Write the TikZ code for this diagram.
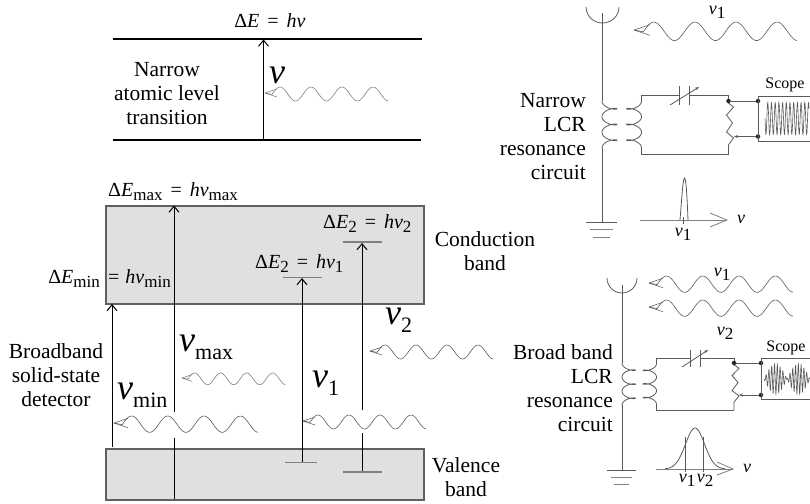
\documentclass[tikz,border=0pt]{standalone}
\usepackage{amsmath}
\usepackage{fontspec}
\setmainfont{Liberation Serif}
\usetikzlibrary{arrows.meta}
\definecolor{bandgray}{HTML}{E0E0E0}
\definecolor{edgegray}{HTML}{606060}
\definecolor{wiregray}{HTML}{5A5A5A}
\newcommand{\eqgap}{\hspace{0.4em}=\hspace{0.4em}}
\newcommand{\eqsub}[1]{\raisebox{-4pt}{\fontsize{17}{20}\selectfont #1}}
\newcommand{\bigsub}[1]{\raisebox{-8pt}{\fontsize{22}{24}\selectfont #1}}
\newcommand{\bignu}{\textit{ν}}

\begin{document}
\begin{tikzpicture}[
			x=1pt, y=-1pt,
			lab/.style={font=\fontsize{21.5}{24}\selectfont, align=center, inner sep=0pt},
			eqn/.style={font=\fontsize{20}{24}\selectfont, inner sep=0pt},
			nulab/.style={font=\fontsize{36}{38}\selectfont, inner sep=0pt},
			small/.style={font=\fontsize{18}{20}\selectfont, inner sep=0pt},
			scopelab/.style={font=\fontsize{16}{18}\selectfont, inner sep=0pt},
			band/.style={draw=edgegray, fill=bandgray, line width=2pt, inner sep=0pt},
			level/.style={draw=black, line width=2pt},
			state/.style={draw=gray, line width=1pt},
			trans/.style={draw=black, line width=1pt},
			transup/.style={trans, -{Straight Barb[length=6pt,width=10pt]}},
			wire/.style={draw=wiregray, line width=0.8pt},
			dot/.style={circle, fill=black!85, minimum size=4.5pt, inner sep=0pt},
			photon/.pic={
				\draw[line width=0.6pt, line join=round] (0,0) -- (12,-4) (0,0) -- (12,4);
				\draw[line width=0.6pt] (0,0) -- (7,1.4)
					plot[domain=7:123, samples=90, smooth] (\x,{1-7*cos(360/31*(\x-15))});
			},
			coilwind/.pic={
				\draw[wire] plot[domain=0:1080, samples=120, smooth] ({15*(1-cos(\x))/2},{\x/1080*47+3.4*sin(\x)});
			},
			resist/.pic={
				\draw[wire] (0,0) -- (0,2) -- (5,6) -- (-2,14) -- (4,22) -- (-2,31) -- (5,37) -- (0,44) -- (0,53);
			}
			]
			\useasboundingbox (0,0) rectangle (810,503);
			
			% Atomic levels
			\coordinate (atomlowA) at (113,139.5);
			\coordinate (atomlowB) at (421,139.5);
			\coordinate (atomupA) at (113,39);
			\coordinate (atomupB) at (422,39);
			\draw[level] (atomupA) -- (atomupB);
			\draw[level] (atomlowA) -- (atomlowB);
			\coordinate (atomfrom) at (263.5,139);
			\coordinate (atomto) at (263.5,39.5);
			\draw[transup] (atomfrom) -- (atomto);
			\node[eqn] (atomeq) at (270,21) {Δ\textit{E}\eqgap\textit{hν}};
			\node[lab] (atomtext) at (167,94) {Narrow\\atomic level\\transition};
			\node[nulab] (atomnu) at (277,75) {\bignu};
			\path (265,93) pic[gray] {photon};
			
			% Bands
			\node[band, minimum width=318pt, minimum height=98pt, anchor=north west] (conduction) at (105,205) {};
			\node[band, minimum width=318pt, minimum height=51pt, anchor=north west] (valence) at (105,448) {};
			
			% Transitions
			\coordinate (minfrom) at (112,447);
			\coordinate (minto) at (112,304);
			\draw[transup] (minfrom) -- (minto);
			\coordinate (maxfrom) at (174,499);
			\coordinate (maxgapA) at (174,438);
			\coordinate (maxgapB) at (174,412);
			\coordinate (maxto) at (174,205.5);
			\draw[trans] (maxfrom) -- (maxgapA);
			\draw[transup] (maxgapB) -- (maxto);
			\coordinate (onefrom) at (302,462);
			\coordinate (oneto) at (302,278);
			\draw[transup] (onefrom) -- (oneto);
			\coordinate (twofrom) at (362,472);
			\coordinate (twogapA) at (362,433);
			\coordinate (twogapB) at (362,410);
			\coordinate (twoto) at (362,243);
			\draw[trans] (twofrom) -- (twogapA);
			\draw[transup] (twogapB) -- (twoto);
			
			% Small levels
			\coordinate (stateA) at (343,242);
			\coordinate (stateB) at (382,242);
			\draw[state, line width=1.2pt] (stateA) -- (stateB);
			\coordinate (stateC) at (283,277);
			\coordinate (stateD) at (322,277);
			\draw[state] (stateC) -- (stateD);
			\coordinate (stateE) at (285,462);
			\coordinate (stateF) at (317,462);
			\draw[state] (stateE) -- (stateF);
			\coordinate (stateG) at (343,472);
			\coordinate (stateH) at (382,472);
			\draw[state, line width=1.2pt] (stateG) -- (stateH);
			
			% Band labels
			\node[eqn, anchor=base west] (maxeq) at (108,196) {Δ\textit{E}\eqsub{max}\eqgap\textit{hν}\eqsub{max}};
			\node[eqn, anchor=base west] (twoeq) at (323,228) {Δ\textit{E}\eqsub{2}\eqgap\textit{hν}\eqsub{2}};
			\node[eqn, anchor=base west] (oneeq) at (255,268) {Δ\textit{E}\eqsub{2}\eqgap\textit{hν}\eqsub{1}};
			\node[eqn, anchor=base east] (mineqA) at (100,283) {Δ\textit{E}\eqsub{min}};
			\node[eqn, anchor=base west] (mineqB) at (108,283) {=\hspace{0.3em}\textit{hν}\eqsub{min}};
			\node[lab] (condtext) at (485,251) {Conduction\\band};
			\node[lab] (valtext) at (466,477) {Valence\\band};
			\node[lab] (detector) at (56,375) {Broadband\\solid-state\\detector};
			\node[nulab, anchor=base west] (numax) at (179,351) {\bignu\bigsub{max}};
			\node[nulab, anchor=base west] (numin) at (117,399) {\bignu\bigsub{min}};
			\node[nulab, anchor=base west] (nuone) at (312,387) {\bignu\bigsub{1}};
			\node[nulab, anchor=base west] (nutwo) at (385,324) {\bignu\bigsub{2}};
			
			% Photons
			\path (370,351) pic[wiregray] {photon};
			\path (182,378) pic[gray, scale=0.84] {photon};
			\path (114,423) pic[wiregray, scale=1.17] {photon};
			\path (303,421) pic[wiregray] {photon};
			
			% Narrow circuit
			\node[lab, align=right, anchor=east] (narrowtext) at (586,137) {Narrow\\LCR\\resonance\\circuit};
			\coordinate (ntop) at (602,13);
			\coordinate (ncoilA) at (602,101);
			\coordinate (ncoilB) at (602,148);
			\coordinate (ngnd) at (602,222);
			\draw[wire] (586,7) arc[start angle=180, end angle=360, x radius=16.5, y radius=-16];
			\draw[wire] (ntop) -- (ncoilA);
			\draw[wire] (ncoilB) -- (ngnd);
			\path (ncoilA) pic {coilwind};
			\path (641.5,101) pic[xscale=-1] {coilwind};
			\draw[wire] (586,222) -- (617,222);
			\draw[wire, gray] (590,229) -- (613,229);
			\draw[wire, gray] (593,237) -- (610,237);
			\coordinate (nloopA) at (641.5,101);
			\coordinate (nloopB) at (641.5,95);
			\coordinate (nplateA) at (679,95);
			\coordinate (nplateB) at (689,95);
			\coordinate (nloopC) at (728.5,95);
			\coordinate (nres) at (728.5,101);
			\coordinate (nloopD) at (728.5,154);
			\coordinate (nloopE) at (641.5,154);
			\coordinate (nloopF) at (641.5,148);
			\draw[wire] (nloopA) -- (nloopB) -- (nplateA);
			\draw[wire] (nplateB) -- (nloopC) -- (nres);
			\draw[wire] (nloopD) -- (nloopE) -- (nloopF);
			\draw[wire] (679,86) -- (679,105);
			\draw[wire] (689,86) -- (689,105);
			\draw[wire, -{Stealth[length=4pt,width=3pt]}] (670,105) -- (699,87);
			\path (nres) pic {resist};
			\node[dot] (nrdot) at (nres) {};
			\node[dot] (nsdotA) at (758,101) {};
			\node[dot] (nsdotB) at (758,136.5) {};
			\draw[wire] (nrdot) -- (nsdotA);
			\draw[wire, -{Stealth[length=4pt,width=3pt]}] (nsdotB) -- (734,136.5);
			\coordinate (nboxA) at (810,96);
			\coordinate (nboxB) at (758,96);
			\coordinate (nboxC) at (758,141);
			\coordinate (nboxD) at (810,141);
			\draw[wire] (nboxA) -- (nboxB) -- (nboxC) -- (nboxD);
			\draw[wire, line width=0.6pt] plot[domain=765:809, samples=220] (\x,{118.5+16*sin(360/3.7*(\x-765))});
			\node[scopelab] (nscope) at (785,85) {Scope};
			\node[small] (nnutop) at (717,12) {\textit{ν}\eqsub{1}};
			\path (634,30) pic[wiregray, scale=1.325] {photon};
			
			% Narrow spectrum
			\coordinate (naxA) at (640,220);
			\coordinate (naxB) at (727,220);
			\draw[wire, gray] (naxA) -- (naxB);
			\draw[wire, gray] (710,213) -- (naxB) -- (710,227);
			\draw[wire] (680,220) .. controls (682,195) and (683,178) .. (684.5,178) .. controls (686,178) and (687,195) .. (688,220);
			\draw[wire] (683.5,217) -- (683.5,224);
			\node[small] (nnuaxis) at (683,234) {\textit{ν}\eqsub{1}};
			\node[small] (nnuend) at (741,219) {\textit{ν}};
			
			% Broad circuit
			\node[lab, align=right, anchor=east] (broadtext) at (613,388) {Broad band\\LCR\\resonance\\circuit};
			\coordinate (btop) at (622,285);
			\coordinate (bcoilA) at (622,363);
			\coordinate (bcoilB) at (622,405);
			\coordinate (bgnd) at (622,470);
			\draw[wire] (607,278) arc[start angle=180, end angle=360, x radius=15, y radius=-15];
			\draw[wire] (btop) -- (bcoilA);
			\draw[wire] (bcoilB) -- (bgnd);
			\path (bcoilA) pic[yscale=0.9, xscale=0.9] {coilwind};
			\path (656.5,363.5) pic[yscale=0.87, xscale=-0.9] {coilwind};
			\draw[wire] (607,470) -- (636,470);
			\draw[wire, gray] (611,477) -- (632,477);
			\draw[wire, gray] (614,484) -- (629,484);
			\coordinate (bloopA) at (656.5,363.5);
			\coordinate (bloopB) at (656.5,358);
			\coordinate (bplateA) at (690,358);
			\coordinate (bplateB) at (700,358);
			\coordinate (bloopC) at (734,358);
			\coordinate (bres) at (734,363);
			\coordinate (bloopD) at (734,410);
			\coordinate (bloopE) at (656.5,410);
			\coordinate (bloopF) at (656.5,404);
			\draw[wire] (bloopA) -- (bloopB) -- (bplateA);
			\draw[wire] (bplateB) -- (bloopC) -- (bres);
			\draw[wire] (bloopD) -- (bloopE) -- (bloopF);
			\draw[wire] (690,350) -- (690,367);
			\draw[wire] (700,350) -- (700,367);
			\draw[wire, -{Stealth[length=4pt,width=3pt]}] (682,367) -- (708,350);
			\path (bres) pic[yscale=0.89] {resist};
			\node[dot] (brdot) at (bres) {};
			\node[dot] (bsdotA) at (761,363) {};
			\node[dot] (bsdotB) at (761,395) {};
			\draw[wire] (brdot) -- (bsdotA);
			\draw[wire, -{Stealth[length=4pt,width=3pt]}] (bsdotB) -- (739,395);
			\coordinate (bboxA) at (810,358);
			\coordinate (bboxB) at (761,358);
			\coordinate (bboxC) at (761,399);
			\coordinate (bboxD) at (810,399);
			\draw[wire] (bboxA) -- (bboxB) -- (bboxC) -- (bboxD);
			\draw[wire, line width=0.6pt] plot[domain=764:810, samples=260] (\x,{379+15*sin(180/23*(\x-764))*sin(360/2.8*(\x-764))});
			\node[scopelab] (bscope) at (786,348) {Scope};
			\node[small] (bnutopA) at (722,274) {\textit{ν}\eqsub{1}};
			\node[small] (bnutopB) at (725,333) {\textit{ν}\eqsub{2}};
			\path (649,283) pic[wiregray, scale=1.17] {photon};
			\path (649,307) pic[wiregray, scale=1.17] {photon};
			
			% Broad spectrum
			\coordinate (baxA) at (656,469);
			\coordinate (baxB) at (733,469);
			\draw[wire, gray] (baxA) -- (baxB);
			\draw[wire, gray] (717,462) -- (baxB) -- (717,475);
			\draw[wire] plot[domain=665:725, samples=50, smooth] (\x,{469-41*exp(-((\x-695)/13.5)^2)});
			\draw[wire] (685,472) -- (685,437);
			\draw[wire] (703,472) -- (703,437);
			\node[small] (bnuaxisA) at (687,480) {\textit{ν}\eqsub{1}};
			\node[small] (bnuaxisB) at (705,480) {\textit{ν}\eqsub{2}};
			\node[small] (bnuend) at (747,468) {\textit{ν}};
			
		\end{tikzpicture}
\end{document}
